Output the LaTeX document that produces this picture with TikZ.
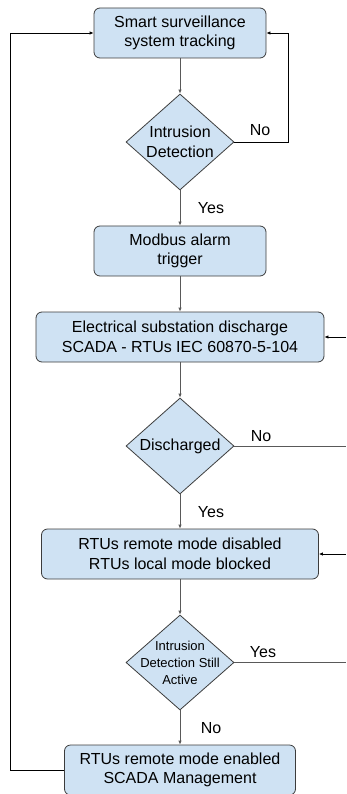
\documentclass[tikz,border=0pt]{standalone}
\usepackage{fontspec}
\setmainfont{Liberation Sans}
\usetikzlibrary{shapes.geometric,arrows.meta}
\definecolor{boxfill}{HTML}{CFE2F3}
\definecolor{boxline}{HTML}{3C3C3C}
\definecolor{conn}{HTML}{595959}
\tikzset{
  procbox/.style={draw=boxline, fill=boxfill, rounded corners=6pt, line width=0.8pt,
    minimum height=50pt, inner sep=0pt, align=center,
    font=\fontsize{16}{19.5}\selectfont},
  dia/.style={draw=boxline, fill=boxfill, shape=diamond, line width=0.8pt,
    minimum width=108pt, minimum height=96pt, inner sep=0pt},
  dtext/.style={align=center, inner sep=0pt, font=\fontsize{16}{20}\selectfont},
  dsmall/.style={align=center, inner sep=0pt, font=\fontsize{13}{17}\selectfont},
  lbl/.style={inner sep=0pt, font=\fontsize{16}{19}\selectfont},
  flow/.style={draw=conn, line width=0.8pt, -{Latex[length=4pt,width=3.5pt]}},
  branch/.style={draw=conn, line width=0.8pt},
  loopline/.style={draw=black, line width=0.8pt},
  looparrow/.style={draw=black, line width=0.8pt, -{Latex[length=4pt,width=3.5pt]}},
}
\begin{document}
\begin{tikzpicture}[x=1pt, y=-1pt]
\useasboundingbox (0,0) rectangle (346,794);

\node[procbox, minimum width=172pt] (b1) at (180,33) {Smart surveillance\\system tracking};
\node[dia, label={[dtext]center:Intrusion\\Detection}] (d1) at (180,142) {};
\node[procbox, minimum width=172pt] (b2) at (180,251) {Modbus alarm\\trigger};
\node[procbox, minimum width=288pt] (b3) at (180,337) {Electrical substation discharge\\SCADA - RTUs IEC 60870-5-104};
\node[dia, label={[dtext]center:Discharged}] (d2) at (180,446) {};
\node[procbox, minimum width=277pt] (b4) at (180,554) {RTUs remote mode disabled\\RTUs local mode blocked};
\node[dia, minimum height=95pt, label={[dsmall]center:Intrusion\\Detection Still\\Active}] (d3) at (180,662.5) {};
\node[procbox, minimum width=231pt] (b5) at (180,770) {RTUs remote mode enabled\\SCADA Management};

\coordinate (n1) at (288,142);
\coordinate (n1t) at (288,33);
\coordinate (r3) at (346,337);
\coordinate (r2) at (346,446);
\coordinate (r4) at (346,554);
\coordinate (r5) at (346,662.5);
\coordinate (lb) at (10,770);
\coordinate (lt) at (10,33);

\draw[flow] (b1.south) -- (d1.north);
\draw[looparrow] (d1.east) -- (n1) -- (n1t) -- (b1.east);
\draw[flow] (d1.south) -- (b2.north);
\draw[flow] (b2.south) -- (b3.north);
\draw[looparrow] (r3) -- (b3.east);
\draw[flow] (b3.south) -- (d2.north);
\draw[branch] (d2.east) -- (r2);
\draw[flow] (d2.south) -- (b4.north);
\draw[looparrow] (r4) -- (b4.east);
\draw[flow] (b4.south) -- (d3.north);
\draw[branch] (d3.east) -- (r5);
\draw[flow] (d3.south) -- (b5.north);
\draw[looparrow] (b5.west) -- (lb) -- (lt) -- (b1.west);

\node[lbl] (l1) at (260,130) {No};
\node[lbl] (l2) at (211,208) {Yes};
\node[lbl] (l3) at (261,436) {No};
\node[lbl] (l4) at (211,512) {Yes};
\node[lbl] (l5) at (263,652) {Yes};
\node[lbl] (l6) at (211,728) {No};
\end{tikzpicture}
\end{document}
